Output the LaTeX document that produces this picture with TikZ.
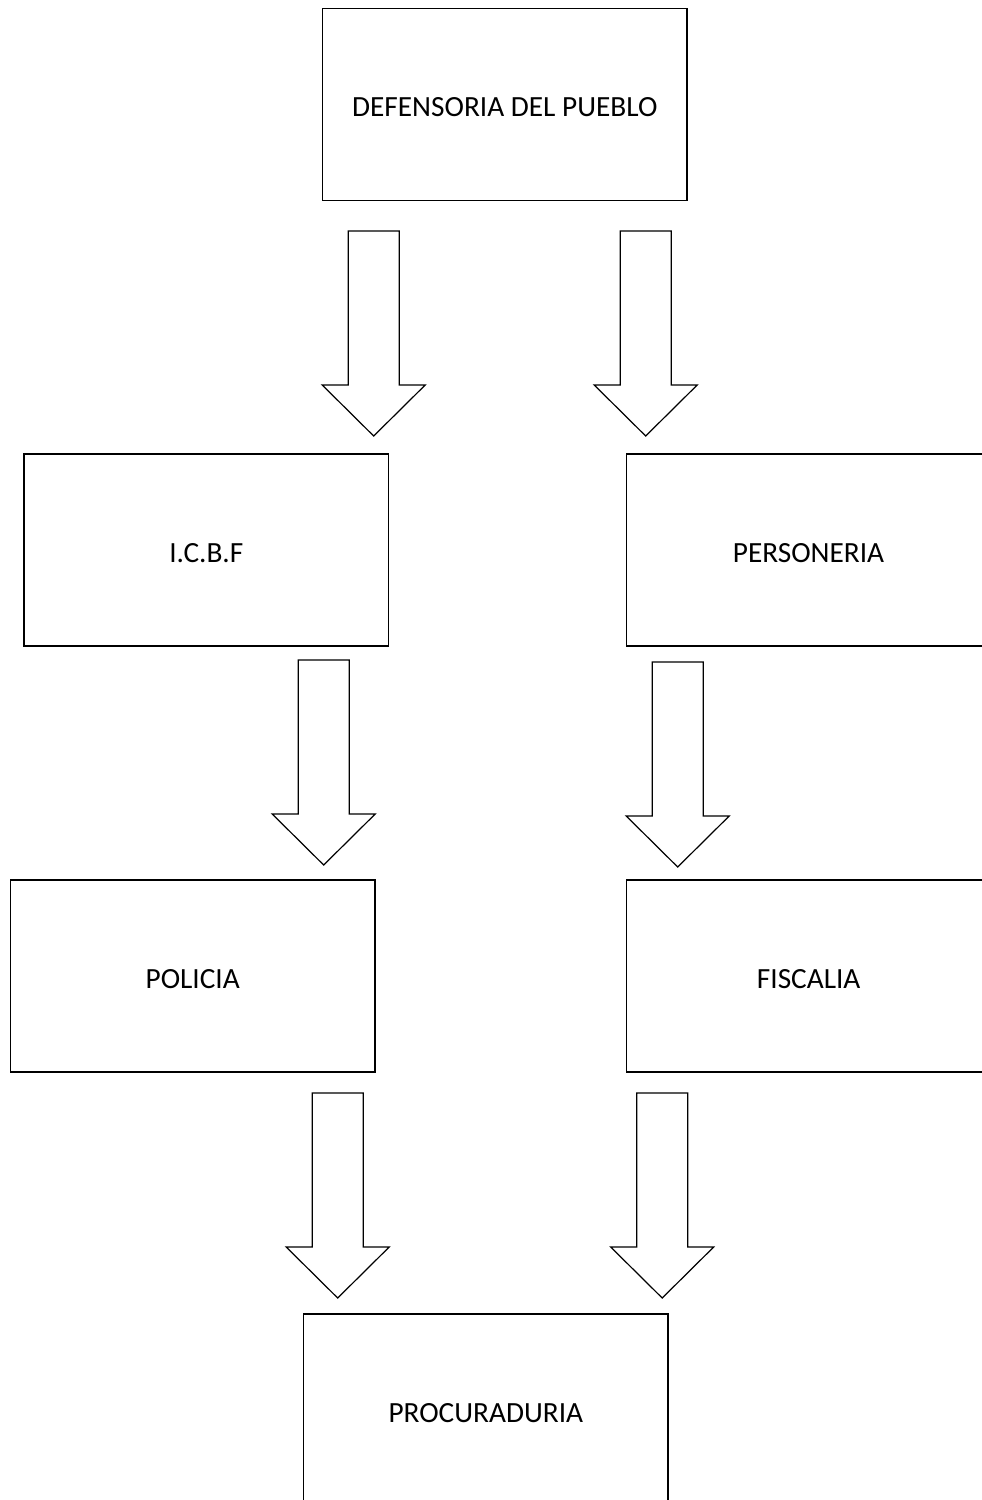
\documentclass[tikz,border=0pt]{standalone}
\usepackage{fontspec}
\setmainfont{Carlito}
\definecolor{orgcolor0001}{RGB}{255,255,255}
\definecolor{orgcolor0002}{RGB}{0,0,0}

\begin{document}
\begin{tikzpicture}[yscale=-1
,boxstyle/.style={rectangle,draw=orgcolor0002,line width=1.2pt,minimum width=364.5pt,minimum height=192pt,inner sep=0pt,text height=24.5pt,text depth=0pt,font=\fontsize{29.3pt}{35pt}\selectfont}
,arrowstyle/.style={draw=orgcolor0002,fill=orgcolor0001,line width=1.2pt,line join=miter}
,blockarrow/.pic={\draw[arrowstyle] (-25.5pt,0pt) -- (25.5pt,0pt) -- (25.5pt,-154pt) -- (51.5pt,-154pt) -- (0pt,-205pt) -- (-51.5pt,-154pt) -- (-25.5pt,-154pt) -- cycle;}
]
\fill[orgcolor0001] (0pt,0pt) rectangle (982pt,1500pt);
\useasboundingbox (0pt,0pt) rectangle (982pt,1500pt);
\clip (0pt,0pt) rectangle (982pt,1500pt);
\node[boxstyle] (defensoria) at (504.8pt,104.2pt) {DEFENSORIA DEL PUEBLO};
\node[boxstyle] (icbf) at (206.3pt,550pt) {I.C.B.F};
\node[boxstyle] (personeria) at (808.5pt,550pt) {PERSONERIA};
\node[boxstyle] (policia) at (192.7pt,976pt) {POLICIA};
\node[boxstyle] (fiscalia) at (808.7pt,976pt) {FISCALIA};
\node[boxstyle] (procuraduria) at (485.8pt,1410pt) {PROCURADURIA};
\pic (arrowa) at (373.7pt,231pt) {blockarrow};
\pic (arrowb) at (645.7pt,231pt) {blockarrow};
\pic (arrowc) at (323.7pt,660pt) {blockarrow};
\pic (arrowd) at (677.7pt,662pt) {blockarrow};
\pic (arrowe) at (337.7pt,1093pt) {blockarrow};
\pic (arrowf) at (662.2pt,1093pt) {blockarrow};
\end{tikzpicture}
\end{document}
